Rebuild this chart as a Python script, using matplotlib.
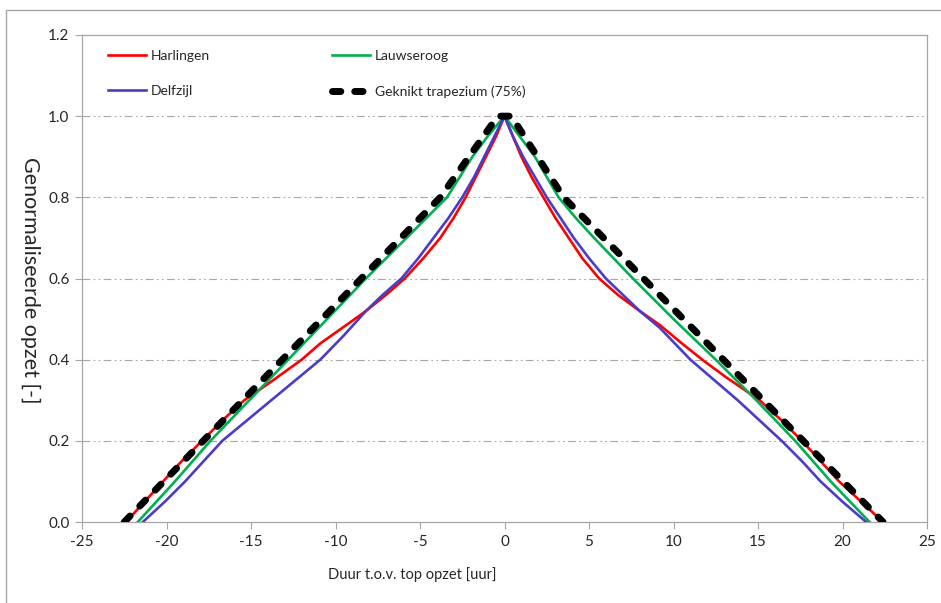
import numpy as np
import matplotlib.pyplot as plt
from matplotlib.patches import Rectangle
from matplotlib.ticker import FormatStrFormatter

plt.rcParams['font.family'] = ['Lato', 'DejaVu Sans']
plt.rcParams['axes.unicode_minus'] = False

# --- data (time [h] vs normalised surge [-]) ---
harlingen_t = [-22.4, -21.3, -20.2, -19.1, -17.9, -16.7, -15.4, -13.9, -12.0, -10.9, -9.2, -8.2, -7.0,
               -5.9, -4.8, -3.8, -3.0, -2.3, -1.7, -1.1, -0.5, 0.0,
               0.5, 1.0, 1.6, 2.3, 3.0, 3.8, 4.6, 5.6, 6.7, 8.0, 9.2, 10.5, 11.7, 13.1, 15.1,
               16.4, 17.6, 18.7, 19.8, 21.1, 22.4]
harlingen_v = [0.0, 0.05, 0.1, 0.15, 0.2, 0.25, 0.3, 0.343, 0.4, 0.44, 0.49, 0.52, 0.56,
               0.6, 0.65, 0.7, 0.75, 0.8, 0.85, 0.9, 0.95, 1.0,
               0.95, 0.9, 0.85, 0.8, 0.75, 0.7, 0.65, 0.6, 0.56, 0.52, 0.485, 0.44, 0.4, 0.357, 0.3,
               0.25, 0.2, 0.15, 0.1, 0.05, 0.0]

lauwersoog_t = [-21.7, -19.5, -17.4, -15.1, -12.8, -10.5, -8.2, -5.8, -4.6, -3.4, -2.65, -1.9, -1.0, 0.0,
                0.9, 1.8, 2.5, 3.2, 4.2, 5.3, 7.6, 10.0, 12.5, 14.9, 17.2, 19.3, 21.6]
lauwersoog_v = [0.0, 0.1, 0.2, 0.3, 0.4, 0.5, 0.6, 0.7, 0.75, 0.8, 0.85, 0.9, 0.95, 1.0,
                0.95, 0.9, 0.85, 0.8, 0.75, 0.7, 0.6, 0.5, 0.4, 0.3, 0.2, 0.1, 0.0]

delfzijl_t = [-21.4, -20.1, -18.9, -17.8, -16.7, -13.8, -10.9, -9.5, -8.2, -7.2, -6.1, -5.1, -4.2,
              -3.3, -2.5, -1.8, -1.2, -0.6, 0.0,
              0.5, 1.1, 1.8, 2.5, 3.3, 4.1, 5.0, 6.0, 7.0, 8.0, 9.2, 11.0, 13.8, 16.4,
              17.6, 18.7, 20.0, 21.4]
delfzijl_v = [0.0, 0.05, 0.1, 0.15, 0.2, 0.3, 0.4, 0.46, 0.52, 0.56, 0.6, 0.65, 0.7,
              0.75, 0.8, 0.85, 0.9, 0.95, 1.0,
              0.95, 0.9, 0.85, 0.8, 0.75, 0.7, 0.65, 0.6, 0.56, 0.52, 0.478, 0.4, 0.3, 0.2,
              0.15, 0.1, 0.05, 0.0]

trapezium_t = [-22.5, -3.8, -0.4, 0.4, 3.5, 22.4]
trapezium_v = [0.0, 0.8, 1.0, 1.0, 0.8, 0.0]

x_ticks = [-25, -20, -15, -10, -5, 0, 5, 10, 15, 20, 25]
y_ticks = [0.0, 0.2, 0.4, 0.6, 0.8, 1.0, 1.2]

W, H = 941, 603
fig = plt.figure(figsize=(W / 100, H / 100), dpi=100)
ax = fig.add_axes([82 / W, 1 - 522 / H, (927 - 82) / W, (522 - 35) / H])

grey = '#a6a6a6'

# grid (dash-dot-dot like Excel)
for yv in y_ticks[1:-1]:
    ax.axhline(yv, color=grey, lw=0.8, ls=(0, (7, 3, 1.5, 3, 1.5, 3)), zorder=0)

l_h, = ax.plot(harlingen_t, harlingen_v, color='#ff0000', lw=1.9, label='Harlingen', zorder=3)
l_l, = ax.plot(lauwersoog_t, lauwersoog_v, color='#00b050', lw=1.9, label='Lauwseroog', zorder=3)
l_d, = ax.plot(delfzijl_t, delfzijl_v, color='#4a3cc8', lw=1.9, label='Delfzijl', zorder=3)
l_g, = ax.plot(trapezium_t, trapezium_v, color='black', lw=5, ls=(0, (1.2, 2.0)),
               dash_capstyle='round', solid_joinstyle='round', label='Geknikt trapezium (75%)', zorder=4)
for ln in (l_h, l_l, l_d):
    ln.set_solid_joinstyle('round')

ax.set_xlim(-25, 25)
ax.set_ylim(0, 1.2)
ax.set_xticks(x_ticks)
ax.set_yticks(y_ticks)
ax.yaxis.set_major_formatter(FormatStrFormatter('%.1f'))
ax.tick_params(direction='out', length=5, width=0.8, color=grey, labelsize=11, labelcolor='#262626', pad=4)
for s in ax.spines.values():
    s.set_color(grey)
    s.set_linewidth(0.9)

fig.text(30 / W, 1 - 280 / H, 'Genormaliseerde opzet [-]', rotation=270,
         ha='center', va='center', fontsize=15.5, color='#262626')
fig.text(412 / W, 1 - 575 / H, 'Duur t.o.v. top opzet [uur]',
         ha='center', va='center', fontsize=10.5, color='#262626')

leg = ax.legend(handles=[l_h, l_d, l_l, l_g], ncol=2, frameon=False,
                loc='upper left', bbox_to_anchor=(108 / W, 1 - 50 / H),
                bbox_transform=fig.transFigure, borderpad=0, borderaxespad=0,
                handlelength=2.73, handletextpad=0.35, columnspacing=8.78,
                labelspacing=1.68, fontsize=10)
for t in leg.get_texts():
    t.set_color('#262626')

# outer chart-area border (left and top visible)
fig.patches.append(Rectangle((6 / W, -0.1), 1.2, 1.1 - 10 / H, transform=fig.transFigure,
                             fill=False, edgecolor=grey, lw=1.0))

fig.savefig('out.png', dpi=100)
